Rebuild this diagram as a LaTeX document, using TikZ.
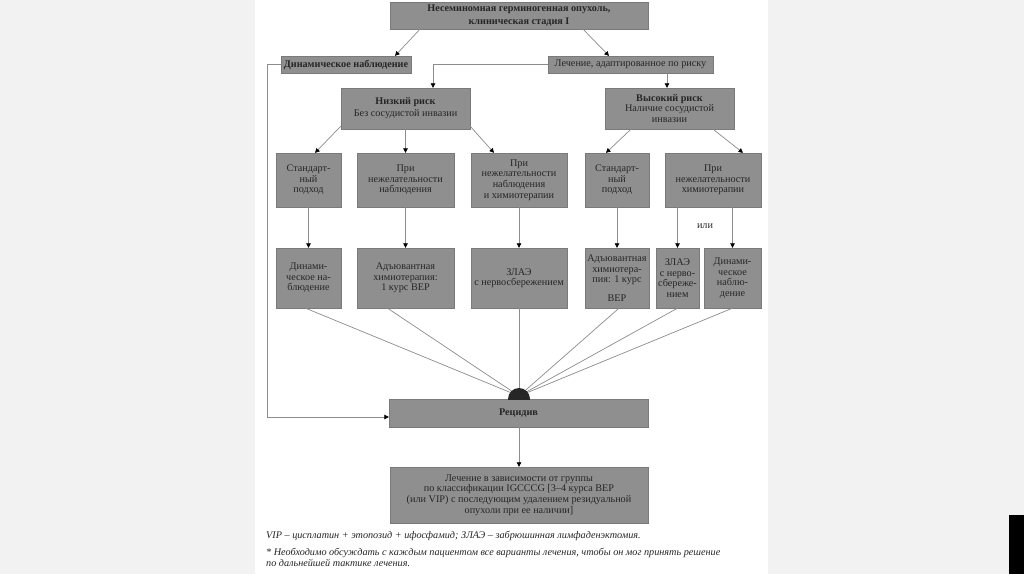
\documentclass[tikz,border=0pt]{standalone}
\usepackage{fontspec}
\setmainfont{Liberation Serif}
\usetikzlibrary{arrows.meta, positioning, calc}

\definecolor{boxgray}{RGB}{143,143,143}
\definecolor{linegray}{RGB}{140,140,140}
\definecolor{txtgray}{RGB}{38,38,38}
\definecolor{pagegray}{RGB}{242,242,242}

\tikzset{
  gbox/.style={fill=boxgray, draw=boxgray!85!black, line width=0.3pt, text=txtgray,
    align=center, inner sep=1pt, font=\fontsize{10.2}{10.6}\selectfont},
  arr/.style={draw=linegray, line width=0.7pt, -{Triangle[width=4.5pt,length=4.5pt,color=black]}},
  ln/.style={draw=linegray, line width=0.7pt},
  note/.style={anchor=north west, align=left, inner sep=0pt, text=txtgray,
    font=\itshape\fontsize{10.2}{11}\selectfont},
}

\begin{document}
\begin{tikzpicture}[x=1pt, y=-1pt]
\useasboundingbox (0,0) rectangle (1024,574);
% Page
\fill[pagegray] (0,0) rectangle (1024,574);
\fill[white] (255,0) rectangle (768,574);
\fill[black] (1009,515) rectangle (1024,574);

% Top level
\node[gbox, font=\bfseries\fontsize{10.2}{12.5}\selectfont, minimum width=258, minimum height=27] (top) at (519,15.5)
  {Несеминомная герминогенная опухоль,\\клиническая стадия I};
\node[gbox, font=\bfseries\fontsize{10.2}{10.5}\selectfont, minimum width=130, minimum height=17] (obs) at (346,64.5)
  {Динамическое наблюдение};
\node[gbox, minimum width=165, minimum height=17] (risk) at (630.5,64.5)
  {Лечение, адаптированное по риску};

% Risk groups
\node[gbox, font=\fontsize{10.2}{12}\selectfont, minimum width=129, minimum height=41] (low) at (405.5,108.5)
  {\textbf{Низкий риск}\\Без сосудистой инвазии};
\node[gbox, minimum width=129, minimum height=41] (high) at (669.5,108.5)
  {\textbf{Высокий риск}\\Наличие сосудистой\\инвазии};

% Approaches
\node[gbox, minimum width=65, minimum height=54] (std1) at (308.5,180) {Стандарт-\\ный\\подход};
\node[gbox, minimum width=97, minimum height=54] (noobs) at (405.5,180) {При\\нежелательности\\наблюдения};
\node[gbox, minimum width=96, minimum height=54] (noboth) at (519,180) {При\\нежелательности\\наблюдения\\и химиотерапии};
\node[gbox, minimum width=64, minimum height=54] (std2) at (617,180) {Стандарт-\\ный\\подход};
\node[gbox, minimum width=96, minimum height=54] (nochemo) at (713,180) {При\\нежелательности\\химиотерапии};

% Treatments
\node[gbox, minimum width=65, minimum height=60] (dyn1) at (308.5,278) {Динами-\\ческое на-\\блюдение};
\node[gbox, minimum width=97, minimum height=60] (adj1) at (405.5,278) {Адъювантная\\химиотерапия:\\1 курс BEP};
\node[gbox, minimum width=96, minimum height=60] (rplnd1) at (519,278) {ЗЛАЭ\\с нервосбережением};
\node[gbox, minimum width=64, minimum height=60] (adj2) at (617,278) {Адъювантная\\химиотера-\\пия: 1 курс\\[8pt]BEP};
\node[gbox, minimum width=43, minimum height=60] (rplnd2) at (677.5,278) {ЗЛАЭ\\с нерво-\\сбереже-\\нием};
\node[gbox, minimum width=57, minimum height=60] (dyn2) at (732.5,278) {Динами-\\ческое\\наблю-\\дение};
\node[text=txtgray, font=\fontsize{10.2}{10.5}\selectfont, inner sep=0pt] (ili) at (705,226) {или};

% Relapse and its treatment
\node[gbox, font=\bfseries\fontsize{10.2}{10.5}\selectfont, minimum width=259, minimum height=28] (relapse) at (518.5,413) {Рецидив};
\node[gbox, minimum width=258, minimum height=56] (final) at (519,495)
  {Лечение в зависимости от группы\\по классификации IGCCCG [3–4 курса BEP\\(или VIP) с последующим удалением резидуальной\\опухоли при ее наличии]};
\coordinate (hub) at (519,396);

% Arrows
\draw[arr] ([xshift=-99pt]top.south) -- ([xshift=49pt]obs.north);
\draw[arr] ([xshift=64pt]top.south) -- ([xshift=-21.5pt]risk.north);
\draw[arr] (risk.west) -| ([xshift=27.5pt]low.north);
\draw[arr] ([xshift=36.5pt]risk.south) -- ([xshift=-2.5pt]high.north);
\draw[arr] (obs.west) -- ++(-14,0) |- ([yshift=-4pt]relapse.west);

\draw[arr] ([yshift=3pt]low.south west) -- ([xshift=6.5pt]std1.north);
\draw[arr] (low.south) -- (noobs.north);
\draw[arr] ([yshift=3pt]low.south east) -- ([xshift=-25pt]noboth.north);
\draw[arr] ([xshift=-38.5pt]high.south) -- ([xshift=-11pt]std2.north);
\draw[arr] ([xshift=43.5pt]high.south) -- ([xshift=30pt]nochemo.north);

\draw[arr] (std1.south) -- (dyn1.north);
\draw[arr] (noobs.south) -- (adj1.north);
\draw[arr] (noboth.south) -- (rplnd1.north);
\draw[arr] (std2.south) -- (adj2.north);
\draw[arr] (nochemo.south -| rplnd2.north) -- (rplnd2.north);
\draw[arr] (nochemo.south -| dyn2.north) -- (dyn2.north);

% Fan into relapse
\draw[ln] ([xshift=-3pt]dyn1.south) -- (hub);
\draw[ln] ([xshift=-18pt]adj1.south) -- (hub);
\draw[ln] (rplnd1.south) -- (hub);
\draw[ln] ([xshift=2pt]adj2.south) -- (hub);
\draw[ln] (rplnd2.south) -- (hub);
\draw[ln] (dyn2.south) -- (hub);
\begin{scope}
  \clip (500,380) rectangle (540,399);
  \fill[black!85] (519,399) circle[radius=11];
\end{scope}
\draw[arr] (relapse.south -| final.north) -- (final.north);

% Notes
\node[note] (note1) at (266,531) {VIP – цисплатин + этопозид + ифосфамид; ЗЛАЭ – забрюшинная лимфаденэктомия.};
\node[note] (note2) at (266,548) {* Необходимо обсуждать с каждым пациентом все варианты лечения, чтобы он мог принять решение\\по дальнейшей тактике лечения.};
\end{tikzpicture}
\end{document}
